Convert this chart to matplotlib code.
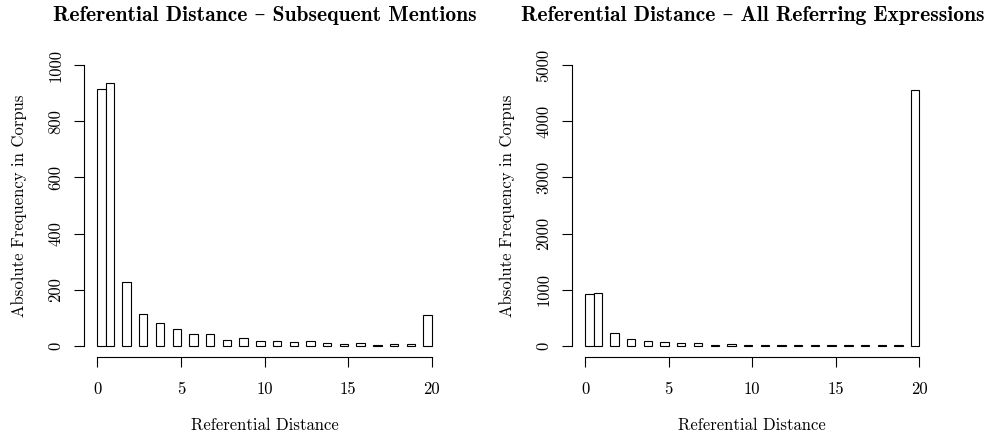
import numpy as np
import matplotlib
matplotlib.use("Agg")
import matplotlib.pyplot as plt

# referential distance (20 = 20 or more / first mention)
distance = np.arange(0, 21)

# counts
subsequent = [915, 936, 228, 112, 81, 59, 42, 40, 20, 28, 18, 18, 12, 15, 9, 7, 8, 4, 7, 5, 109]
all_refs = [915, 934, 226, 112, 81, 59, 42, 40, 20, 28, 18, 18, 12, 15, 9, 7, 8, 4, 7, 5, 4566]

titles = ["Referential Distance \u2013 Subsequent Mentions",
          "Referential Distance \u2013 All Referring Expressions"]
xlab = "Referential Distance"
ylab = "Absolute Frequency in Corpus"
xticks = [0, 5, 10, 15, 20]
yticks_left = [0, 200, 400, 600, 800, 1000]
yticks_right = [0, 1000, 2000, 3000, 4000, 5000]

serif = ["cmr10", "DejaVu Serif"]
serif_bold = ["cmb10", "DejaVu Serif"]
plt.rcParams["font.family"] = serif
plt.rcParams["font.size"] = 12

fig = plt.figure(figsize=(9.92, 4.36), dpi=100)
ax1 = fig.add_axes([0.0846, 0.1814, 0.3641, 0.6945])
ax2 = fig.add_axes([0.5765, 0.1814, 0.3637, 0.6945])


def draw(ax, counts, yticks, title):
    ymax = yticks[-1]
    # R hist with 0.5 wide bins: value 0 in [0,0.5], value k in (k-0.5,k]
    lefts = np.maximum(distance - 0.5, 0)
    ax.bar(lefts, counts, width=0.5, align="edge", facecolor="white",
           edgecolor="black", linewidth=0.8)
    ax.set_xlim(-0.8, 20.8)
    ax.set_ylim(-0.04 * ymax, 1.04 * ymax)
    for s in ["top", "right"]:
        ax.spines[s].set_visible(False)
    ax.spines["left"].set_bounds(0, ymax)
    ax.spines["bottom"].set_bounds(0, 20)
    for s in ["left", "bottom"]:
        ax.spines[s].set_linewidth(0.8)
    ax.set_xticks(xticks)
    ax.set_yticks(yticks)
    ax.tick_params(axis="x", length=7, width=0.8, pad=11, labelsize=12)
    ax.tick_params(axis="y", length=7, width=0.8, pad=8, labelsize=12,
                   labelrotation=90)
    for lab in ax.get_yticklabels():
        lab.set_va("center")
    ax.set_xlabel(xlab, fontsize=12)
    ax.xaxis.set_label_coords(0.5, -0.20)
    ax.set_ylabel(ylab, fontsize=12)
    ax.yaxis.set_label_coords(-0.158, 0.5)
    ax.set_title(title, family=serif_bold, fontsize=15.5, pad=24)


draw(ax1, subsequent, yticks_left, titles[0])
draw(ax2, all_refs, yticks_right, titles[1])

fig.savefig("out.png", dpi=100)
